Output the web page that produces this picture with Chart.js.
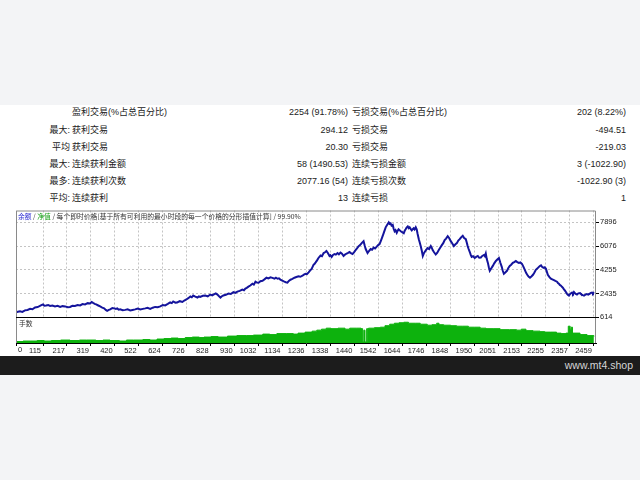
<!DOCTYPE html>
<html>
<head>
<meta charset="utf-8">
<script src="https://cdn.jsdelivr.net/npm/chart.js@4/dist/chart.umd.min.js"></script>
<style>
  body { margin:0; width:640px; height:480px; background:#f3f4f6; overflow:hidden; position:relative;
         font-family:"Liberation Sans","Noto Sans CJK SC",sans-serif; }
  #sheet { position:absolute; left:0; top:105px; width:640px; height:251px; background:#fff; }
  .cell { position:absolute; font-size:9px; line-height:12px; color:#222; white-space:nowrap; }
  .r { text-align:right; width:100px; }
  #chartBox { position:absolute; left:0; top:205px; width:640px; height:151px; }
  #footer { position:absolute; left:0; top:356px; width:640px; height:19px; background:#1c1c1c; }
  #footer span { position:absolute; right:7px; top:3px; font-size:10.5px; color:#d6d6d6; }
</style>
</head>
<body>
<div id="sheet"></div>
<div id="chartBox"><canvas id="chart" width="640" height="151"></canvas></div>
<div id="footer"><span>www.mt4.shop</span></div>
<script>
// stats table
const statLabels = ['', '最大:', '平均', '最大:', '最多:', '平均:'];
const winNames = ['盈利交易(%占总百分比)', '获利交易', '获利交易', '连续获利金额', '连续获利次数', '连续获利'];
const winValues = ['2254 (91.78%)', '294.12', '20.30', '58 (1490.53)', '2077.16 (54)', '13'];
const lossNames = ['亏损交易(%占总百分比)', '亏损交易', '亏损交易', '连续亏损金额', '连续亏损次数', '连续亏损'];
const lossValues = ['202 (8.22%)', '-494.51', '-219.03', '3 (-1022.90)', '-1022.90 (3)', '1'];

// balance curve (trade number -> balance)
const tradeNo = [0, 8, 17, 27, 38, 49, 60, 70, 81, 92, 102, 108, 115, 121, 128, 137, 145, 155, 166, 177,
  188, 198, 209, 220, 230, 240, 251, 262, 273, 283, 294, 305, 315, 322, 328, 335, 341, 350, 358, 367,
  375, 382, 388, 395, 401, 410, 418, 425, 431, 437, 443, 454, 465, 475, 486, 496, 507, 518, 529, 540,
  550, 560, 571, 582, 592, 603, 614, 625, 635, 646, 656, 663, 669, 678, 686, 697, 708, 716, 725, 733,
  742, 748, 754, 763, 772, 778, 784, 795, 806, 816, 827, 835, 844, 850, 857, 863, 870, 876, 882, 893,
  904, 914, 925, 933, 942, 952, 963, 970, 976, 982, 989, 997, 1006, 1012, 1019, 1025, 1032, 1040, 1049, 1057,
  1066, 1074, 1083, 1091, 1100, 1106, 1113, 1119, 1125, 1133, 1142, 1148, 1155, 1161, 1168, 1176, 1185, 1193, 1202, 1210,
  1219, 1225, 1232, 1238, 1245, 1251, 1258, 1262, 1266, 1270, 1275, 1281, 1287, 1291, 1296, 1302, 1309, 1315, 1321, 1327,
  1334, 1338, 1343, 1349, 1355, 1361, 1368, 1374, 1381, 1387, 1394, 1400, 1407, 1413, 1419, 1425, 1432, 1438, 1445, 1451,
  1458, 1464, 1471, 1475, 1479, 1484, 1488, 1492, 1496, 1502, 1509, 1515, 1522, 1528, 1535, 1541, 1547, 1553, 1560, 1566,
  1573, 1579, 1586, 1590, 1594, 1598, 1603, 1607, 1611, 1615, 1620, 1624, 1628, 1632, 1637, 1643, 1650, 1654, 1658, 1662,
  1667, 1671, 1675, 1680, 1684, 1688, 1692, 1696, 1701, 1705, 1709, 1714, 1718, 1722, 1727, 1731, 1735, 1739, 1745, 1752,
  1758, 1765, 1769, 1773, 1779, 1786, 1792, 1799, 1805, 1812, 1818, 1824, 1830, 1837, 1843, 1850, 1856, 1863, 1869, 1876,
  1882, 1888, 1894, 1901, 1907, 1914, 1918, 1922, 1926, 1931, 1935, 1939, 1945, 1952, 1958, 1965, 1971, 1978, 1984, 1991,
  1995, 1999, 2003, 2008, 2012, 2016, 2022, 2029, 2035, 2042, 2048, 2055, 2061, 2067, 2071, 2076, 2082, 2089, 2095, 2101,
  2107, 2114, 2120, 2127, 2133, 2140, 2146, 2153, 2159, 2165, 2171, 2178, 2182, 2187, 2193, 2200, 2206, 2212, 2218, 2225,
  2229, 2234, 2240, 2246, 2250, 2255, 2259, 2263, 2270, 2276, 2282, 2289, 2295, 2302, 2306, 2310, 2314, 2319, 2323, 2327,
  2331, 2336, 2340, 2344, 2348, 2353, 2359, 2366, 2370, 2374, 2380, 2387, 2393, 2400, 2404, 2408, 2412, 2417, 2423, 2429,
  2435, 2442, 2446, 2451, 2455, 2459];
const balance = [993, 1040, 1069, 1030, 1145, 1180, 1259, 1230, 1373, 1400, 1486, 1540, 1600, 1500, 1524, 1560, 1486, 1520, 1448, 1490,
  1410, 1470, 1448, 1380, 1410, 1500, 1486, 1560, 1524, 1630, 1600, 1700, 1676, 1780, 1714, 1650, 1600, 1520, 1448, 1360,
  1297, 1180, 1107, 1180, 1221, 1330, 1297, 1250, 1297, 1200, 1221, 1150, 1183, 1220, 1145, 1180, 1221, 1290, 1221, 1260,
  1297, 1340, 1259, 1350, 1410, 1380, 1448, 1560, 1524, 1640, 1752, 1700, 1828, 1740, 1752, 1850, 1790, 1900, 1979, 2080,
  2207, 2150, 2283, 2200, 2131, 2220, 2169, 2260, 2283, 2220, 2359, 2300, 2396, 2440, 2359, 2250, 2131, 2230, 2283, 2340,
  2434, 2400, 2548, 2490, 2586, 2640, 2738, 2690, 2814, 2870, 2965, 3050, 3193, 3120, 3345, 3280, 3269, 3380, 3420, 3520,
  3648, 3600, 3686, 3640, 3572, 3650, 3572, 3600, 3496, 3420, 3345, 3300, 3269, 3400, 3496, 3560, 3648, 3700, 3762, 3720,
  3800, 3880, 3951, 3920, 4065, 4200, 4331, 4480, 4634, 4700, 4824, 4980, 5165, 5250, 5355, 5300, 5544, 5600, 5696, 5550,
  5317, 5380, 5241, 5400, 5468, 5420, 5544, 5450, 5582, 5500, 5317, 5420, 5506, 5560, 5620, 5540, 5468, 5600, 5772, 5900,
  6075, 6150, 6303, 6380, 6454, 6100, 5848, 5700, 5544, 5700, 5848, 5800, 5961, 5900, 6037, 6150, 6227, 6500, 6834, 7150,
  7516, 7700, 7896, 7780, 7820, 7650, 7706, 7400, 7213, 7300, 7099, 7250, 7365, 7300, 7213, 7150, 7061, 7250, 7365, 7500,
  7592, 7450, 7516, 7380, 7289, 7380, 7441, 7350, 7516, 7365, 7000, 6606, 6350, 6075, 5700, 5317, 5500, 5620, 5780, 5924,
  5850, 6075, 5950, 5772, 5600, 5430, 5550, 5772, 5950, 6151, 6300, 6530, 6650, 6834, 6700, 6454, 6300, 6075, 6200, 6303,
  6500, 6606, 6750, 6872, 6700, 6606, 6350, 6075, 5850, 5620, 5400, 5241, 5300, 5165, 5250, 5317, 5180, 5203, 5320, 5393,
  5300, 5506, 5100, 4786, 4450, 4179, 4350, 4558, 4750, 4937, 5050, 5165, 4800, 4482, 4200, 3951, 4050, 4179, 4400, 4558,
  4650, 4786, 4850, 4937, 4850, 4786, 4820, 4710, 4500, 4255, 4000, 3800, 3720, 3648, 3750, 3876, 4050, 4255, 4350, 4482,
  4550, 4596, 4450, 4407, 4450, 4331, 4100, 3876, 3700, 3572, 3520, 3458, 3400, 3345, 3250, 3193, 3100, 3041, 2950, 2890,
  2780, 2662, 2550, 2434, 2350, 2283, 2420, 2510, 2420, 2548, 2420, 2359, 2450, 2472, 2400, 2359, 2320, 2283, 2350, 2396,
  2350, 2434, 2480, 2510, 2450, 2548];

// lots per trade
const volTrade = [0, 30, 60, 90, 120, 150, 190, 230, 270, 300, 340, 370, 400, 440, 470, 500, 540, 570, 600, 630,
  660, 690, 720, 750, 780, 800, 830, 860, 900, 940, 980, 1010, 1050, 1080, 1110, 1150, 1180, 1200, 1230, 1260,
  1280, 1300, 1320, 1340, 1370, 1400, 1420, 1450, 1468, 1475, 1480, 1485, 1492, 1497, 1500, 1525, 1550, 1570, 1590, 1610,
  1630, 1650, 1670, 1700, 1720, 1750, 1770, 1790, 1800, 1820, 1850, 1875, 1900, 1925, 1950, 1975, 2000, 2030, 2060, 2100,
  2130, 2150, 2170, 2200, 2230, 2250, 2275, 2300, 2320, 2340, 2350, 2358, 2363, 2368, 2400, 2430, 2459];
const volLots = [0.15, 0.2, 0.2, 0.25, 0.2, 0.25, 0.3, 0.25, 0.3, 0.3, 0.25, 0.3, 0.25, 0.2, 0.3, 0.3, 0.35, 0.3, 0.4, 0.45,
  0.5, 0.45, 0.55, 0.6, 0.55, 0.6, 0.65, 0.6, 0.7, 0.75, 0.75, 0.8, 0.9, 0.85, 0.95, 0.95, 0.9, 1.0, 1.1, 1.2,
  1.3, 1.4, 1.5, 1.45, 1.5, 1.4, 1.5, 1.5, 1.45, 0.1, 1.3, 0.1, 1.45, 0.1, 1.5, 1.55, 1.6, 1.75, 1.9, 2.0,
  2.05, 2.1, 2.0, 2.0, 1.9, 1.8, 1.85, 2.0, 1.85, 1.8, 1.75, 1.7, 1.7, 1.6, 1.6, 1.5, 1.45, 1.45, 1.35, 1.35,
  1.3, 1.4, 1.25, 1.2, 1.15, 1.1, 1.1, 1.0, 0.95, 1.0, 1.7, 1.4, 1.6, 1.0, 0.85, 0.75, 0.65];

const xTicks = [0, 115, 217, 319, 420, 522, 624, 726, 828, 930, 1032, 1134, 1236, 1338, 1440, 1542, 1644, 1746, 1848, 1950, 2051, 2153, 2255, 2357, 2459];
const yTicks = [614, 2435, 4255, 6076, 7896];

const chartTitle = [['余额', '#2a2ad2'], [' / ', '#444'], ['净值', '#18a018'], [' / 每个即时价格[基于所有可利用的最小时段的每一个价格的分形插值计算] / 99.90%', '#333']];
const volTitle = '手数';

// build table
for (let i = 0; i < winNames.length; i++) {
  const top = Math.round(112.3 + i * 17.2 - 6);
  const cells = [
    [statLabels[i], 'left:-30px', true],
    [winNames[i], 'left:72px', false],
    [winValues[i], 'left:248px', true],
    [lossNames[i], 'left:352px', false],
    [lossValues[i], 'left:526px', true],
  ];
  cells.forEach(c => {
    const d = document.createElement('div');
    d.className = 'cell' + (c[2] ? ' r' : '');
    d.style.cssText += c[1] + ';top:' + top + 'px';
    d.textContent = c[0];
    document.body.appendChild(d);
  });
}

const tickFont = { family: 'Liberation Sans', size: 7.5 };

const mt4Frame = {
  id: 'mt4Frame',
  beforeDatasetsDraw(chart) {
    const { ctx, chartArea: a } = chart;
    const v = chart.scales.y2;
    ctx.save();
    ctx.fillStyle = '#fff';
    ctx.fillRect(a.left, v.top, a.right - a.left, v.bottom - v.top);
    ctx.restore();
  },
  afterDraw(chart) {
    const { ctx, chartArea: a } = chart;
    const sep = Math.round(chart.scales.y.bottom) + 0.5;
    ctx.save();
    ctx.lineWidth = 1;
    ctx.strokeStyle = '#8a8a8a';
    ctx.beginPath();
    ctx.moveTo(a.left + 0.5, a.bottom);
    ctx.lineTo(a.left + 0.5, a.top + 0.5);
    ctx.lineTo(a.right - 0.5, a.top + 0.5);
    ctx.lineTo(a.right - 0.5, a.bottom);
    ctx.stroke();
    ctx.strokeStyle = '#000';
    ctx.beginPath();
    ctx.moveTo(a.left, sep);
    ctx.lineTo(a.right + 3, sep);
    ctx.stroke();
    // titles
    ctx.font = '6.8px "Noto Sans CJK SC"';
    ctx.textBaseline = 'middle';
    let x = a.left + 2;
    chartTitle.forEach(([t, c]) => {
      ctx.fillStyle = c;
      ctx.fillText(t, x, a.top + 6);
      x += ctx.measureText(t).width;
    });
    ctx.fillStyle = '#333';
    ctx.fillText(volTitle, a.left + 3, chart.scales.y2.top + 6);
    ctx.font = '7.5px "Liberation Sans"';
    ctx.textBaseline = 'top';
    ctx.fillStyle = '#222';
    ctx.fillText('0', a.left + 2, a.bottom + 3);
    ctx.restore();
  }
};

new Chart(document.getElementById('chart'), {
  type: 'line',
  plugins: [mt4Frame],
  data: {
    datasets: [
      {
        data: tradeNo.map((t, i) => ({ x: t, y: balance[i] })),
        yAxisID: 'y',
        borderColor: '#14149c',
        borderWidth: 2,
        pointRadius: 0,
        tension: 0,
      },
      {
        data: volTrade.map((t, i) => ({ x: t, y: volLots[i] })),
        yAxisID: 'y2',
        stepped: true,
        fill: 'origin',
        borderColor: '#0db20d',
        backgroundColor: '#0db20d',
        borderWidth: 1,
        pointRadius: 0,
      },
    ],
  },
  options: {
    responsive: false,
    devicePixelRatio: 1,
    animation: false,
    layout: { padding: { left: 16, top: 4, right: 0, bottom: 0 } },
    plugins: { legend: { display: false }, tooltip: { enabled: false } },
    scales: {
      x: {
        type: 'linear',
        min: 0,
        max: 2468,
        afterBuildTicks: s => { s.ticks = xTicks.map(v => ({ value: v })); },
        afterFit: s => { s.height = 13; },
        ticks: {
          callback: v => (v === 0 ? '' : String(v)),
          font: tickFont,
          color: '#222',
          align: 'end',
          labelOffset: -2,
          padding: 0,
          maxRotation: 0,
          autoSkip: false,
        },
        grid: { color: '#c4c4c4', tickColor: '#000', tickLength: 3, tickBorderDash: [] },
        border: { color: '#000', width: 1, dash: [2, 2] },
      },
      y: {
        type: 'linear',
        position: 'right',
        stack: 'panel',
        stackWeight: 108,
        min: 614,
        max: 8806,
        afterBuildTicks: s => { s.ticks = yTicks.map(v => ({ value: v })); },
        afterFit: s => { s.width = 44; },
        ticks: { callback: v => String(v), font: tickFont, color: '#222', padding: 1 },
        grid: { color: '#c4c4c4', tickColor: '#000', tickLength: 3, tickBorderDash: [] },
        border: { display: false, dash: [2, 2] },
      },
      y2: {
        type: 'linear',
        position: 'right',
        stack: 'panel',
        stackWeight: 26,
        min: 0,
        max: 2.6,
        afterFit: s => { s.width = 44; },
        ticks: { display: false },
        grid: { display: false },
        border: { display: false },
      },
    },
  },
});
</script>
</body>
</html>
